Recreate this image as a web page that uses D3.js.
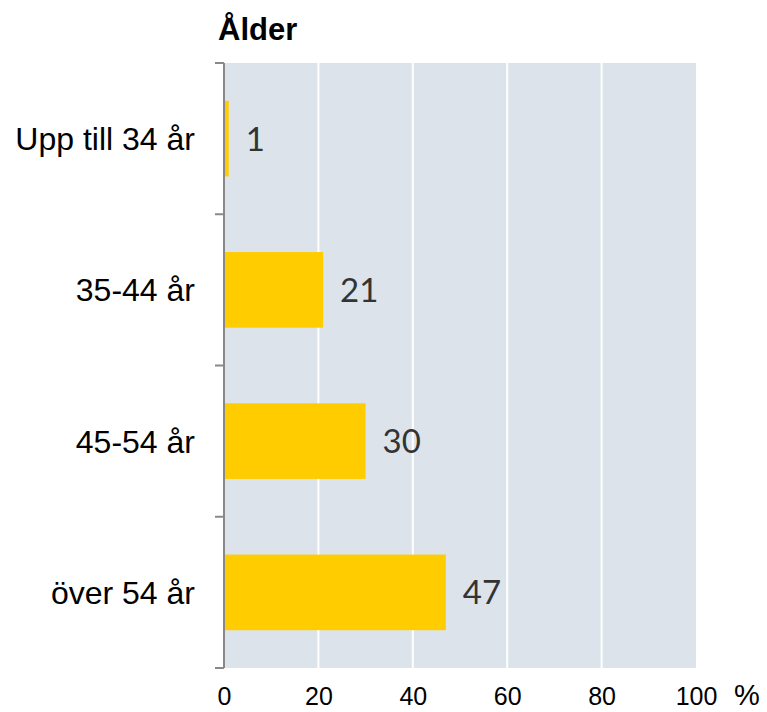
<!DOCTYPE html>
<html><head><meta charset="utf-8">
<script src="https://cdn.jsdelivr.net/npm/d3@7"></script>
<style>body{margin:0;background:#fff}</style>
</head><body>
<svg id="c" width="767" height="712"></svg>
<script>
const categories = ["Upp till 34 år", "35-44 år", "45-54 år", "över 54 år"];
const values = [1, 21, 30, 47];
const xTicks = [0, 20, 40, 60, 80, 100];
const title = "Ålder";
const unit = "%";

const svg = d3.select("#c");
const m = {left: 224, top: 63, right: 696, bottom: 668};
const x = d3.scaleLinear().domain([0, 100]).range([m.left, m.right]);
const y = d3.scaleBand().domain(categories).range([m.top, m.bottom]).paddingInner(0.5).paddingOuter(0.25);

svg.append("rect").attr("x", x(0)).attr("y", m.top).attr("width", x(100) - x(0)).attr("height", m.bottom - m.top).attr("fill", "#dce3ea");

svg.selectAll("line.grid").data(xTicks.filter(d => d > 0 && d < 100)).join("line")
  .attr("x1", d => x(d)).attr("x2", d => x(d)).attr("y1", m.top).attr("y2", m.bottom)
  .attr("stroke", "#fff").attr("stroke-width", 2);

svg.selectAll("rect.bar").data(values).join("rect")
  .attr("x", x(0)).attr("y", (d, i) => y(categories[i]))
  .attr("width", d => x(d) - x(0)).attr("height", y.bandwidth()).attr("fill", "#ffcc00");

svg.selectAll("text.val").data(values).join("text")
  .attr("x", d => x(d) + 17).attr("y", (d, i) => y(categories[i]) + y.bandwidth() / 2)
  .attr("dy", "0.36em").attr("font-family", "Lato, sans-serif").attr("font-size", 33)
  .attr("fill", "#333").text(d => d);

// left axis
const step = (m.bottom - m.top) / categories.length;
const yAxis = g => {
  g.append("line").attr("x1", m.left).attr("x2", m.left).attr("y1", m.top).attr("y2", m.bottom)
    .attr("stroke", "#888").attr("stroke-width", 2);
  g.selectAll("line.t").data(d3.range(categories.length + 1)).join("line")
    .attr("x1", m.left - 9).attr("x2", m.left).attr("y1", i => m.top + i * step).attr("y2", i => m.top + i * step)
    .attr("stroke", "#888").attr("stroke-width", 2);
  g.selectAll("text").data(categories).join("text")
    .attr("x", 195).attr("y", d => y(d) + y.bandwidth() / 2).attr("dy", "0.36em")
    .attr("text-anchor", "end").attr("font-family", "Liberation Sans, Arial, sans-serif").attr("font-size", 32)
    .attr("fill", "#000").text(d => d);
};
svg.append("g").call(yAxis);

const xAxis = d3.axisBottom(x).tickValues(xTicks).tickSize(0).tickPadding(0);
const gx = svg.append("g").attr("transform", `translate(0,${m.bottom})`).call(xAxis);
gx.select(".domain").remove();
gx.selectAll("text").attr("font-family", "Liberation Sans, Arial, sans-serif").attr("font-size", 25)
  .attr("fill", "#000").attr("dy", null).attr("y", 37);

svg.append("text").attr("x", 747).attr("y", 705).attr("text-anchor", "middle")
  .attr("font-family", "Liberation Sans, Arial, sans-serif").attr("font-size", 29).text(unit);

svg.append("text").attr("x", 218).attr("y", 40).attr("font-family", "Liberation Sans, Arial, sans-serif")
  .attr("font-weight", "bold").attr("font-size", 31).text(title);
</script>
</body></html>
